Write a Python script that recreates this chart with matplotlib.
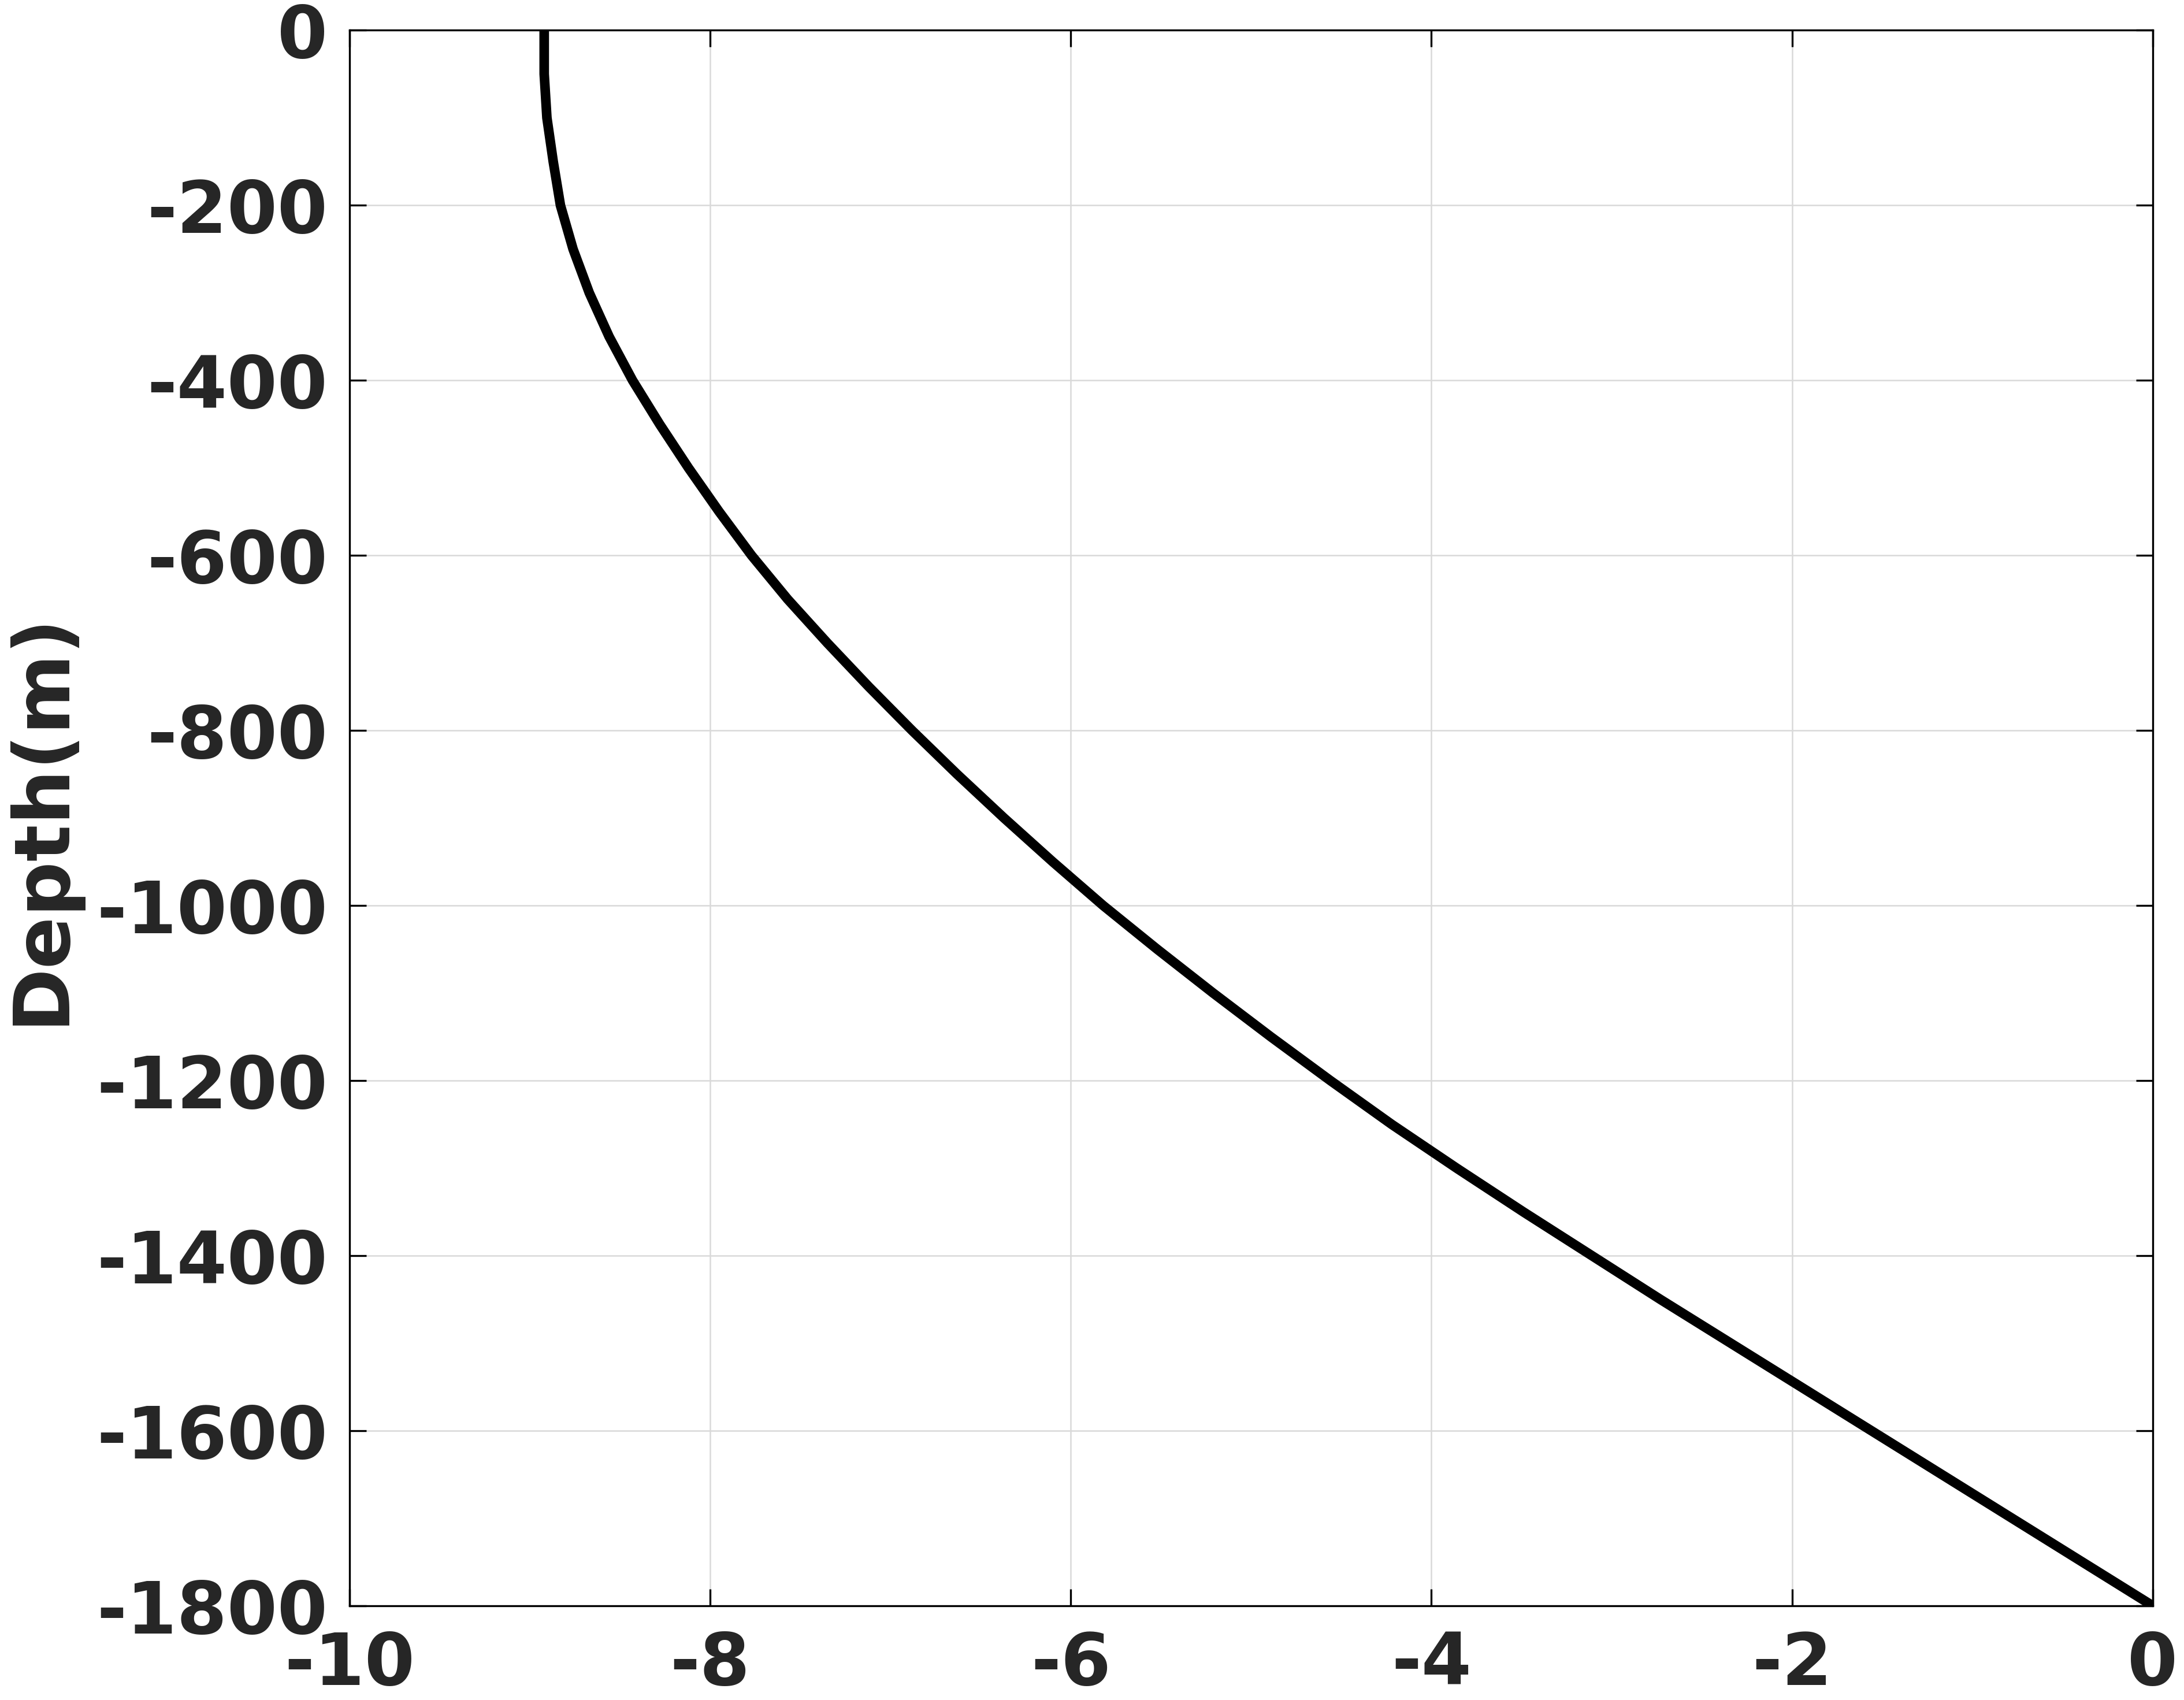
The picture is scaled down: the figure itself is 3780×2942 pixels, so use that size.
import numpy as np
import matplotlib
matplotlib.use("Agg")
import matplotlib.pyplot as plt

# profile (depth in m, value)
depth = [0, -50, -100, -150, -200, -250, -300, -350, -400, -450, -500, -550,
         -600, -650, -700, -750, -800, -850, -900, -950, -1000, -1050, -1100,
         -1150, -1200, -1250, -1300, -1350, -1400, -1450, -1500, -1550, -1600,
         -1650, -1700, -1750, -1800]
value = [-8.92, -8.92, -8.905, -8.87, -8.83, -8.76, -8.67, -8.56, -8.43, -8.28,
         -8.12, -7.95, -7.77, -7.57, -7.35, -7.12, -6.88, -6.63, -6.37, -6.10,
         -5.82, -5.52, -5.21, -4.89, -4.56, -4.22, -3.86, -3.49, -3.11, -2.73,
         -2.34, -1.95, -1.56, -1.17, -0.78, -0.39, 0.0]

xticks = [-10, -8, -6, -4, -2, 0]
yticks = list(range(0, -1801, -200))

txt = "#262626"
plt.rcParams['font.family'] = ['DejaVu Sans']
plt.rcParams['font.weight'] = 'bold'

fig = plt.figure(figsize=(12.6, 9.8067), dpi=300)
ax = fig.add_axes([0.160, 0.0554, 0.8257, 0.9268])

ax.plot(value, depth, color="black", lw=4.0, solid_capstyle="butt",
        solid_joinstyle="round")

ax.set_xlim(-10, 0)
ax.set_ylim(-1800, 0)
ax.set_xticks(xticks)
ax.set_yticks(yticks)
ax.set_xticklabels([str(t) for t in xticks])
ax.set_yticklabels([str(t) for t in yticks])

ax.grid(True, color="#d9d9d9", lw=0.6)
ax.set_axisbelow(True)

ax.tick_params(direction="in", length=7, width=0.8, top=True, right=True,
               labelsize=30, labelcolor=txt, colors="black")
ax.tick_params(axis="x", pad=10)
ax.tick_params(axis="y", pad=9)
for lab in ax.get_xticklabels() + ax.get_yticklabels():
    lab.set_fontweight("bold")
for s in ax.spines.values():
    s.set_linewidth(0.8)
    s.set_color("black")

ax.set_ylabel("Depth(m)", fontsize=32, fontweight="bold", color=txt)
ax.yaxis.set_label_coords(-0.150, 0.5)

fig.savefig("out.png", dpi=300, facecolor="white")
